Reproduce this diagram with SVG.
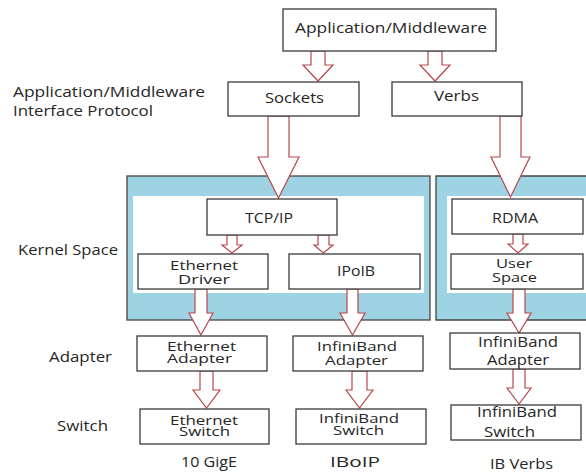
<svg xmlns="http://www.w3.org/2000/svg" width="586" height="472" viewBox="0 0 586 472">
<style>
text{font-family:"Open Sans","DejaVu Sans",sans-serif;font-size:14px;fill:#262626;}
.c{text-anchor:middle;}
.s{font-size:13px;}
.box{fill:#fff;stroke:#3a3a3a;stroke-width:1.3;}
.kern{fill:#9dd3e3;stroke:#444;stroke-width:1.3;}
.inner{fill:#fff;stroke:none;}
.arr{fill:#fff;stroke:#b9474b;stroke-width:1.2;stroke-linejoin:miter;}
</style>
<rect width="586" height="472" fill="#fff"/>

<g id="labels">
<text x="13" y="97" textLength="192" lengthAdjust="spacingAndGlyphs">Application/Middleware</text>
<text x="13" y="116" textLength="140" lengthAdjust="spacingAndGlyphs">Interface Protocol</text>
<text x="18" y="255" textLength="100" lengthAdjust="spacingAndGlyphs">Kernel Space</text>
<text x="49" y="362" textLength="63" lengthAdjust="spacingAndGlyphs">Adapter</text>
<text x="57" y="431" textLength="51" lengthAdjust="spacingAndGlyphs">Switch</text>
<text class="c" x="209" y="467" textLength="56" lengthAdjust="spacingAndGlyphs">10 GigE</text>
<text class="c" x="355" y="467" textLength="50" lengthAdjust="spacingAndGlyphs">IBoIP</text>
<text class="c" x="521.5" y="469" textLength="63" lengthAdjust="spacingAndGlyphs">IB Verbs</text>
</g>

<g id="kernel-left">
<rect class="kern" x="127" y="176" width="303" height="144"/>
<rect class="inner" x="133" y="196" width="291" height="97"/>
</g>
<g id="kernel-right">
<path class="kern" d="M587,176 H436 V320 H587"/>
<rect class="inner" x="447" y="196" width="139" height="97"/>
</g>

<g id="connectors">
<polygon class="arr" points="311,51 325,51 325,65 333,65 318,81 303,65 311,65"/>
<polygon class="arr" points="428,51 442,51 442,65 450,65 435,81 420,65 428,65"/>
<polygon class="arr" points="268,116 289,116 289,157 299,157 278.5,198 258,157 268,157"/>
<polygon class="arr" points="500,116 521,116 521,157 530,157 510.5,197 491,157 500,157"/>
<polygon class="arr" points="227,235 237,235 237,245 242,245 232,253 222,245 227,245"/>
<polygon class="arr" points="318,235 329,235 329,245 333,245 323.5,253 314,245 318,245"/>
<polygon class="arr" points="513,234 523,234 523,244 528,244 518,253 508,244 513,244"/>
<polygon class="arr" points="195,289 207,289 207,313 213,313 201,335 189,313 195,313"/>
<polygon class="arr" points="347,289 358,289 358,313 365,313 352.5,335 340,313 347,313"/>
<polygon class="arr" points="513,289 525,289 525,313 531,313 519,333 507,313 513,313"/>
<polygon class="arr" points="200,371 213,371 213,390 220,390 206.5,408 193,390 200,390"/>
<polygon class="arr" points="352,371 367,371 367,390 373,390 359.5,408 346,390 352,390"/>
<polygon class="arr" points="513,369 525,369 525,388 531,388 519,404 507,388 513,388"/>
</g>

<g id="app-middleware">
<rect class="box" x="283" y="9" width="213" height="42"/>
<text class="c" x="391" y="33" textLength="192" lengthAdjust="spacingAndGlyphs">Application/Middleware</text>
</g>
<g id="sockets">
<rect class="box" x="228" y="82" width="131" height="34"/>
<text class="c" x="294.5" y="103" textLength="59" lengthAdjust="spacingAndGlyphs">Sockets</text>
</g>
<g id="verbs">
<rect class="box" x="392" y="82" width="130" height="34"/>
<text class="c" x="456.5" y="101" textLength="45" lengthAdjust="spacingAndGlyphs">Verbs</text>
</g>
<g id="tcpip">
<rect class="box" x="207" y="199" width="130" height="36"/>
<text class="c" x="269" y="223" textLength="48" lengthAdjust="spacingAndGlyphs">TCP/IP</text>
</g>
<g id="ethernet-driver">
<rect class="box" x="138" y="254" width="130" height="35"/>
<text class="c s" x="204" y="270" textLength="68" lengthAdjust="spacingAndGlyphs">Ethernet</text>
<text class="c s" x="204" y="284" textLength="52" lengthAdjust="spacingAndGlyphs">Driver</text>
</g>
<g id="ipoib">
<rect class="box" x="289" y="254" width="131" height="35"/>
<text class="c" x="356" y="276" textLength="38" lengthAdjust="spacingAndGlyphs">IPoIB</text>
</g>
<g id="rdma">
<rect class="box" x="452" y="199" width="131" height="35"/>
<text class="c" x="515" y="223" textLength="46" lengthAdjust="spacingAndGlyphs">RDMA</text>
</g>
<g id="user-space">
<rect class="box" x="451" y="254" width="132" height="35"/>
<text class="c s" x="514" y="268" textLength="36" lengthAdjust="spacingAndGlyphs">User</text>
<text class="c s" x="514.5" y="282" textLength="45" lengthAdjust="spacingAndGlyphs">Space</text>
</g>
<g id="ethernet-adapter">
<rect class="box" x="137" y="336" width="130" height="35"/>
<text class="c s" x="201.5" y="351" textLength="69" lengthAdjust="spacingAndGlyphs">Ethernet</text>
<text class="c s" x="199.5" y="363" textLength="65" lengthAdjust="spacingAndGlyphs">Adapter</text>
</g>
<g id="infiniband-adapter">
<rect class="box" x="293" y="336" width="130" height="35"/>
<text class="c s" x="357" y="351" textLength="80" lengthAdjust="spacingAndGlyphs">InfiniBand</text>
<text class="c s" x="356.5" y="365" textLength="63" lengthAdjust="spacingAndGlyphs">Adapter</text>
</g>
<g id="ib-adapter-verbs">
<rect class="box" x="450" y="333" width="130" height="36"/>
<text class="c" x="518" y="347" textLength="80" lengthAdjust="spacingAndGlyphs">InfiniBand</text>
<text class="c" x="518" y="365" textLength="62" lengthAdjust="spacingAndGlyphs">Adapter</text>
</g>
<g id="ethernet-switch">
<rect class="box" x="140" y="409" width="129" height="35"/>
<text class="c s" x="204" y="425" textLength="68" lengthAdjust="spacingAndGlyphs">Ethernet</text>
<text class="c s" x="204.5" y="436" textLength="51" lengthAdjust="spacingAndGlyphs">Switch</text>
</g>
<g id="infiniband-switch">
<rect class="box" x="296" y="409" width="130" height="35"/>
<text class="c s" x="359" y="423" textLength="80" lengthAdjust="spacingAndGlyphs">InfiniBand</text>
<text class="c s" x="358.5" y="435" textLength="51" lengthAdjust="spacingAndGlyphs">Switch</text>
</g>
<g id="ib-switch-verbs">
<rect class="box" x="451" y="405" width="130" height="35"/>
<text class="c" x="517" y="417" textLength="80" lengthAdjust="spacingAndGlyphs">InfiniBand</text>
<text class="c" x="509.5" y="437" textLength="51" lengthAdjust="spacingAndGlyphs">Switch</text>
</g>
</svg>
